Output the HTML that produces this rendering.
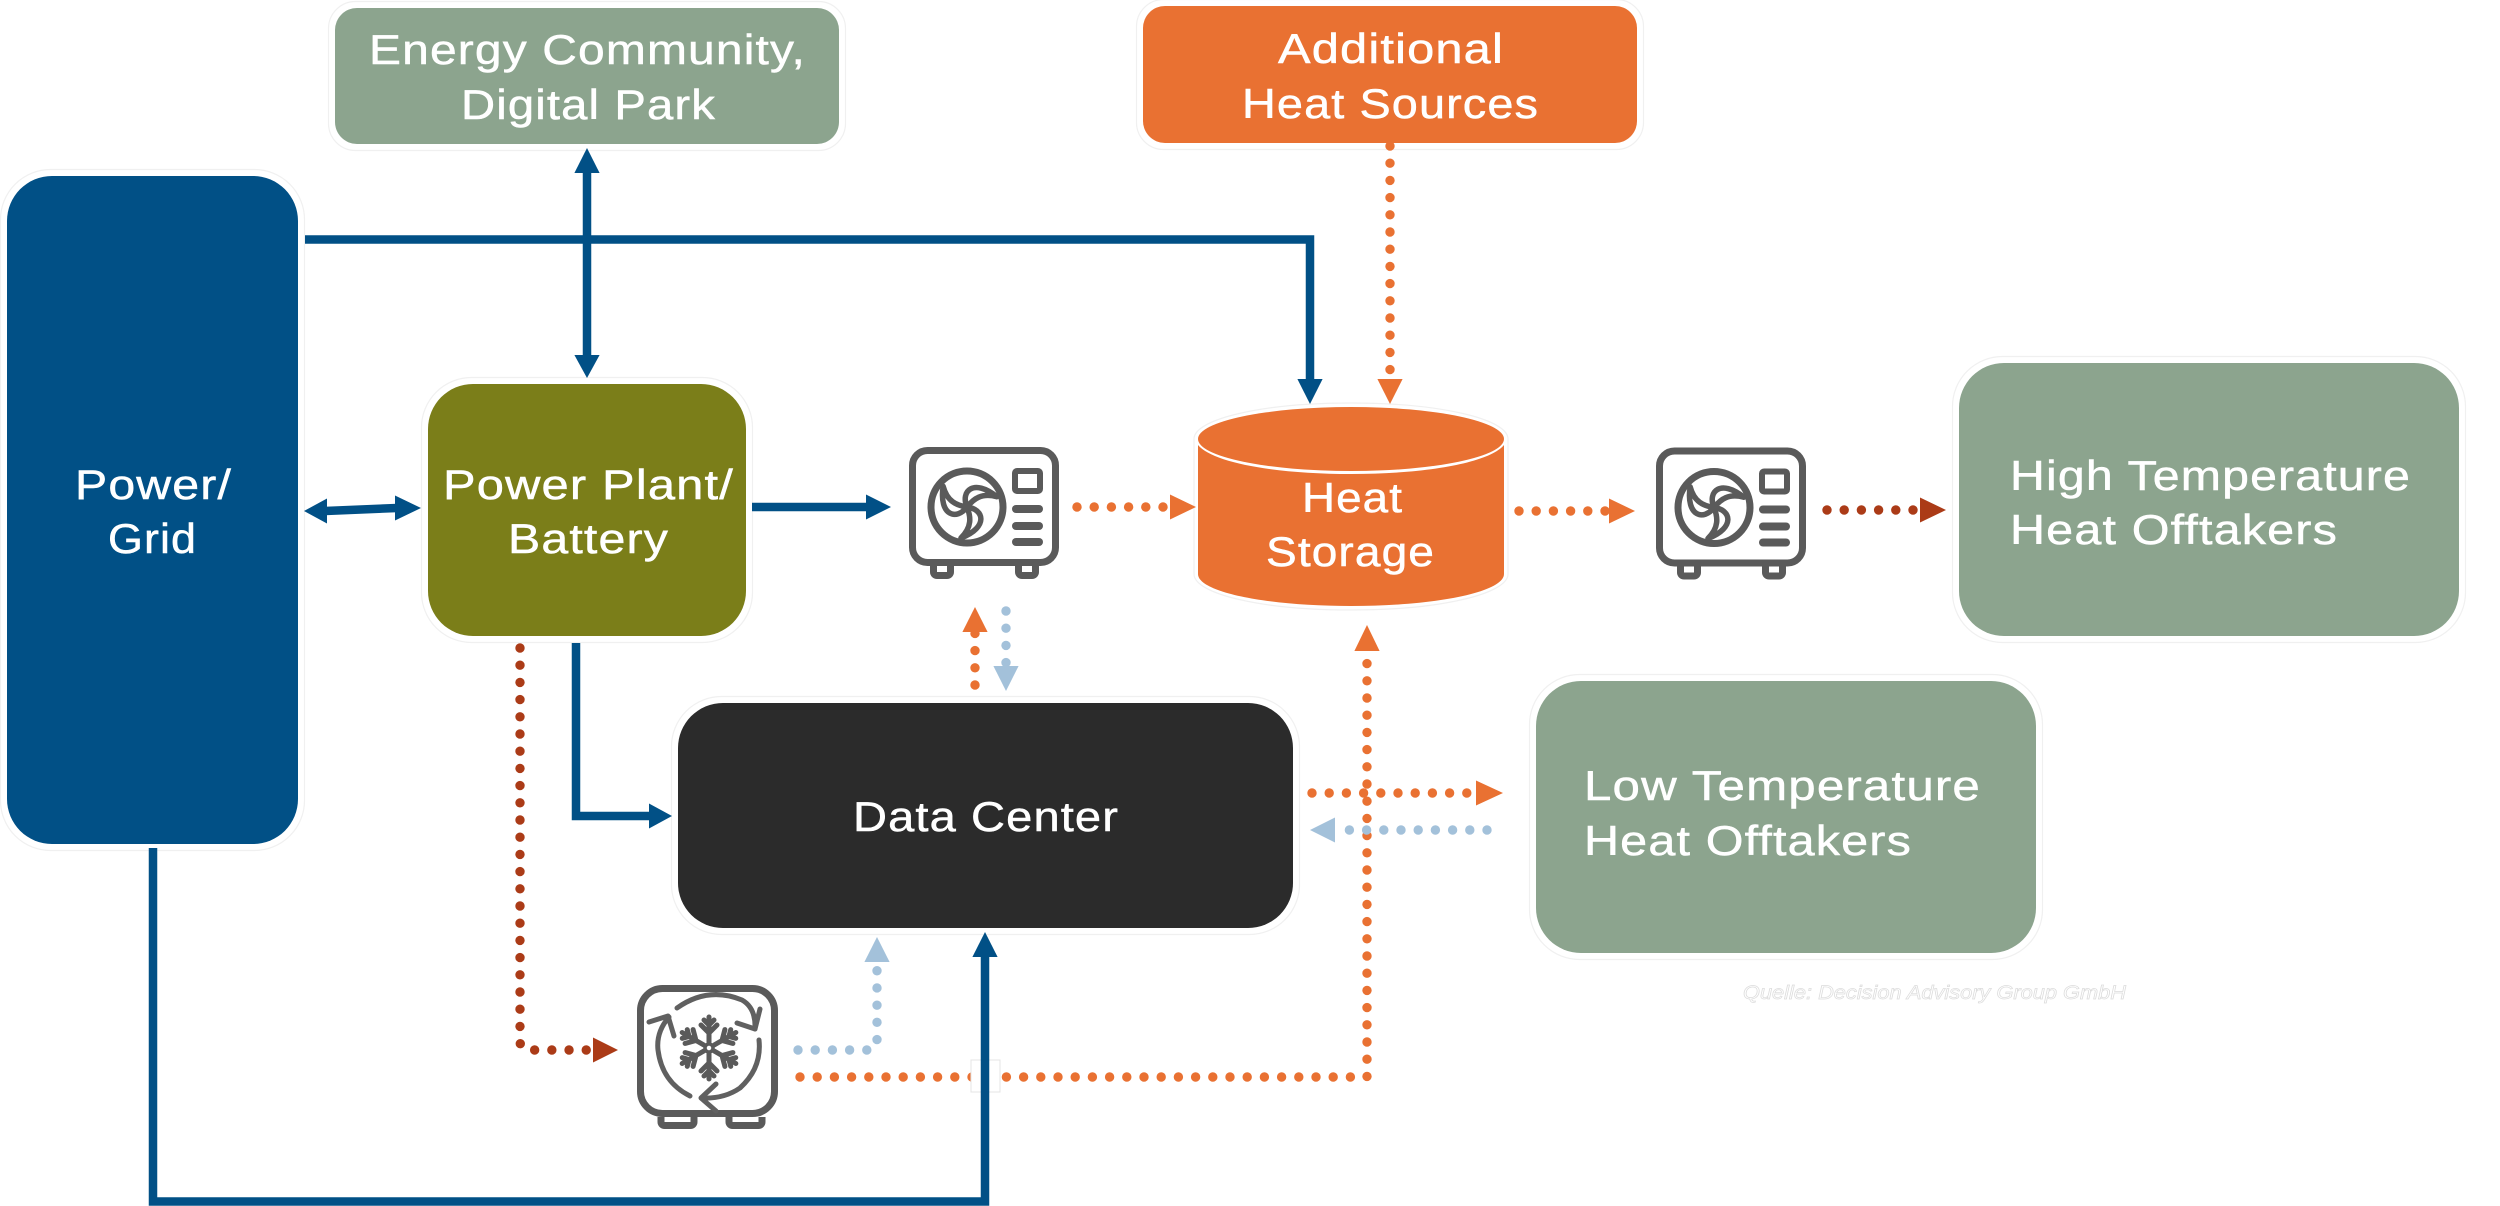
<!DOCTYPE html>
<html>
<head>
<meta charset="utf-8">
<style>
html,body{margin:0;padding:0;background:#fff;width:2500px;height:1206px;overflow:hidden}
svg{display:block}
text{font-family:"Liberation Sans",sans-serif;font-size:42px;fill:#fff;stroke:#fff;stroke-width:.5;letter-spacing:1px}
.h{fill:none;stroke:#f0f0f0;stroke-width:1.2}
.d{fill:none;stroke-width:9.4;stroke-linecap:round;stroke-dasharray:0 17.2}
.b{fill:none;stroke:#015086;stroke-width:8.5}
.i{fill:none;stroke:#5a5a5a;stroke-width:7}
</style>
</head>
<body>
<svg width="2500" height="1206" viewBox="0 0 2500 1206" xmlns="http://www.w3.org/2000/svg">
<defs>
<g id="hp">
  <rect x="912.5" y="450.5" width="143" height="112" rx="15" class="i"/>
  <path d="M933.5 566v6a3.500 3.500 0 0 0 3.500 3.500h10a3.500 3.500 0 0 0 3.500-3.500v-6M1018.500 566v6a3.500 3.500 0 0 0 3.500 3.500h10a3.500 3.500 0 0 0 3.500-3.500v-6" class="i"/>
  <circle cx="967" cy="507" r="36" class="i"/>
  <g fill="#fff" stroke="#5a5a5a" stroke-width="5.500" stroke-linejoin="round">
    <path id="bl" transform="translate(967 507)" d="M0 0C17 2 22 20-6 31C5 20 4 10 0 0Z"/>
    <path transform="translate(967 507) rotate(120)" d="M0 0C17 2 22 20-6 31C5 20 4 10 0 0Z"/>
    <path transform="translate(967 507) rotate(240)" d="M0 0C17 2 22 20-6 31C5 20 4 10 0 0Z"/>
  </g>
  <rect x="1015" y="471" width="25" height="20" rx="2" fill="none" stroke="#5a5a5a" stroke-width="6"/>
  <rect x="1012" y="505" width="31" height="8" rx="4" fill="#5a5a5a"/>
  <rect x="1012" y="522" width="31" height="8" rx="4" fill="#5a5a5a"/>
  <rect x="1012" y="538" width="31" height="8" rx="4" fill="#5a5a5a"/>
</g>
<g id="arm" fill="none" stroke="#5a5a5a" stroke-width="5" stroke-linecap="round">
  <path d="M0 -6V-31M0 -15L-8 -23M0 -15L8 -23M0 -23L-5 -28M0 -23L5 -28" />
</g>
</defs>

<!-- halos -->
<rect x="328.500" y="1.500" width="517" height="149" rx="27" class="h"/>
<rect x="1136.500" y="-0.500" width="507" height="150" rx="27" class="h"/>
<rect x="0.500" y="169.500" width="304" height="681" rx="50" class="h"/>
<rect x="421.500" y="377.500" width="331" height="265" rx="50" class="h"/>
<rect x="671.500" y="696.500" width="628" height="238" rx="50" class="h"/>
<rect x="1952.500" y="356.500" width="513" height="286" rx="50" class="h"/>
<rect x="1529.500" y="674.500" width="513" height="285" rx="50" class="h"/>

<!-- boxes -->
<rect x="335" y="8" width="504" height="136" rx="22" fill="#8ca48e"/>
<rect x="1143" y="6" width="494" height="137" rx="22" fill="#e97132"/>
<rect x="7" y="176" width="291" height="668" rx="45" fill="#015086"/>
<rect x="428" y="384" width="318" height="252" rx="45" fill="#7b7e19"/>
<rect x="678" y="703" width="615" height="225" rx="45" fill="#2b2b2b"/>
<rect x="1959" y="363" width="500" height="273" rx="45" fill="#8ca48e"/>
<rect x="1536" y="681" width="500" height="272" rx="45" fill="#8ca48e"/>

<!-- cylinder -->
<path d="M1194 439V574C1194 594 1262 610 1351 610S1508 594 1508 574V439C1508 419 1440 403 1351 403S1194 419 1194 439Z" fill="#fff" stroke="#f0f0f0" stroke-width="1.200"/>
<path d="M1198 445V574C1198 592 1266 606 1351 606S1504 592 1504 574V445C1490 462 1430 474 1351 474S1212 462 1198 445Z" fill="#e97132"/>
<ellipse cx="1351" cy="439" rx="153" ry="32" fill="#e97132"/>

<!-- labels -->
<text x="369" y="64" textLength="437" lengthAdjust="spacingAndGlyphs">Energy Community,</text>
<text x="461" y="119" textLength="255" lengthAdjust="spacingAndGlyphs">Digital Park</text>
<text x="1278" y="63" textLength="226" lengthAdjust="spacingAndGlyphs">Additional</text>
<text x="1242" y="118" textLength="297" lengthAdjust="spacingAndGlyphs">Heat Sources</text>
<text x="75" y="499" textLength="157" lengthAdjust="spacingAndGlyphs">Power/</text>
<text x="108" y="553" textLength="89" lengthAdjust="spacingAndGlyphs">Grid</text>
<text x="443" y="499" textLength="291" lengthAdjust="spacingAndGlyphs">Power Plant/</text>
<text x="508" y="553" textLength="161" lengthAdjust="spacingAndGlyphs">Battery</text>
<text x="1302" y="512" textLength="101" lengthAdjust="spacingAndGlyphs">Heat</text>
<text x="1266" y="566" textLength="169" lengthAdjust="spacingAndGlyphs">Storage</text>
<text x="853" y="831" textLength="266" lengthAdjust="spacingAndGlyphs">Data Center</text>
<text x="2010" y="490" textLength="401" lengthAdjust="spacingAndGlyphs">High Temperature</text>
<text x="2010" y="544" textLength="328" lengthAdjust="spacingAndGlyphs">Heat Offtakers</text>
<text x="1584" y="800" textLength="397" lengthAdjust="spacingAndGlyphs">Low Temperature</text>
<text x="1584" y="855" textLength="328" lengthAdjust="spacingAndGlyphs">Heat Offtakers</text>
<text x="1743" y="999" textLength="383" lengthAdjust="spacingAndGlyphs" style="font-size:19px;font-style:italic;letter-spacing:0;fill:#fff;stroke:#dcdcdc;stroke-width:.7">Quelle: Decision Advisory Group GmbH</text>

<!-- orange dots -->
<path class="d" stroke="#e97132" d="M1390 146V372"/>
<polygon points="1377.400,379 1402.600,379 1390,404" fill="#e97132"/>
<path class="d" stroke="#e97132" d="M1077 507H1165"/>
<polygon points="1170,494.500 1196,507 1170,519.500" fill="#e97132"/>
<path class="d" stroke="#e97132" d="M1519 511H1608"/>
<polygon points="1609,498.500 1635,511 1609,523.500" fill="#e97132"/>
<path class="d" stroke="#e97132" d="M975 685V632"/>
<polygon points="962.400,632 987.600,632 975,607" fill="#e97132"/>
<path class="d" stroke="#e97132" d="M1312 793H1472"/>
<polygon points="1476,780.500 1503,793 1476,805.500" fill="#e97132"/>
<path class="d" stroke="#e97132" d="M800 1077H1367V658"/>
<polygon points="1354.400,651 1379.600,651 1367,625" fill="#e97132"/>

<!-- dark red dots -->
<path class="d" stroke="#ab3b17" d="M1827 510H1916"/>
<polygon points="1920,497.500 1946,510 1920,522.500" fill="#ab3b17"/>
<path class="d" stroke="#ab3b17" d="M520 648V1041Q520 1050 531 1050H588"/>
<polygon points="593,1037.500 618,1050 593,1062.500" fill="#ab3b17"/>

<!-- light blue dots -->
<path class="d" stroke="#a3c1da" d="M1006 611V664"/>
<polygon points="993.400,666 1018.600,666 1006,691" fill="#a3c1da"/>
<path class="d" stroke="#a3c1da" d="M1487 830H1345"/>
<polygon points="1335,817.500 1310,830 1335,842.500" fill="#a3c1da"/>
<path class="d" stroke="#a3c1da" d="M798 1050H867Q877 1050 877 1042V968"/>
<polygon points="864.400,962 889.600,962 877,937" fill="#a3c1da"/>

<!-- crossing patch -->
<rect x="971" y="1060" width="29" height="32" fill="#fff" stroke="#e4e4e4" stroke-width="1"/>

<!-- blue lines -->
<path class="b" d="M305 239.500H1310V382"/>
<polygon points="1297.400,379 1322.600,379 1310,404" fill="#015086"/>
<path class="b" d="M587 172V357"/>
<polygon points="574.400,173 599.600,173 587,148" fill="#015086"/>
<polygon points="574.400,355 599.600,355 587,378" fill="#015086"/>
<path class="b" d="M325 511L397 508"/>
<polygon points="327,498.500 327,523.500 304,511" fill="#015086"/>
<polygon points="395,495.500 395,520.500 421,508" fill="#015086"/>
<path class="b" d="M752 507H868"/>
<polygon points="866,494.500 891,507 866,519.500" fill="#015086"/>
<path class="b" d="M576 643V816H652"/>
<polygon points="649,803.500 672,816 649,828.500" fill="#015086"/>
<path class="b" d="M153 848V1201.500H985V955"/>
<polygon points="972.400,957 997.600,957 985,932" fill="#015086"/>

<!-- heat pumps -->
<use href="#hp"/>
<use href="#hp" transform="translate(747 0.500)"/>

<!-- chiller icon -->
<rect x="640.500" y="988.500" width="134" height="125" rx="22" class="i"/>
<path d="M661 1117v5a3.500 3.500 0 0 0 3.500 3.500h26a3.500 3.500 0 0 0 3.500-3.500v-5M729 1117v5a3.500 3.500 0 0 0 3.500 3.500h26a3.500 3.500 0 0 0 3.500-3.500v-5" class="i"/>
<g transform="translate(709 1048)">
  <circle r="4" fill="none" stroke="#5a5a5a" stroke-width="3.500"/>
  <use href="#arm"/>
  <use href="#arm" transform="rotate(60)"/>
  <use href="#arm" transform="rotate(120)"/>
  <use href="#arm" transform="rotate(180)"/>
  <use href="#arm" transform="rotate(240)"/>
  <use href="#arm" transform="rotate(300)"/>
</g>
<g fill="none" stroke="#606060" stroke-width="5" stroke-linecap="round" stroke-linejoin="round">
  <path d="M677 1008Q708 986 742 1000Q756 1008 755 1029"/>
  <path d="M760 1009L755 1029L737 1023"/>
  <path d="M759 1040Q762 1068 740 1088Q724 1099 702 1098"/>
  <path d="M716 1084L701 1098L716 1111"/>
  <path d="M690 1096Q662 1082 658 1050Q656 1032 669 1017"/>
  <path d="M649 1022L668 1016L674 1036"/>
</g>
</svg>
</body>
</html>
